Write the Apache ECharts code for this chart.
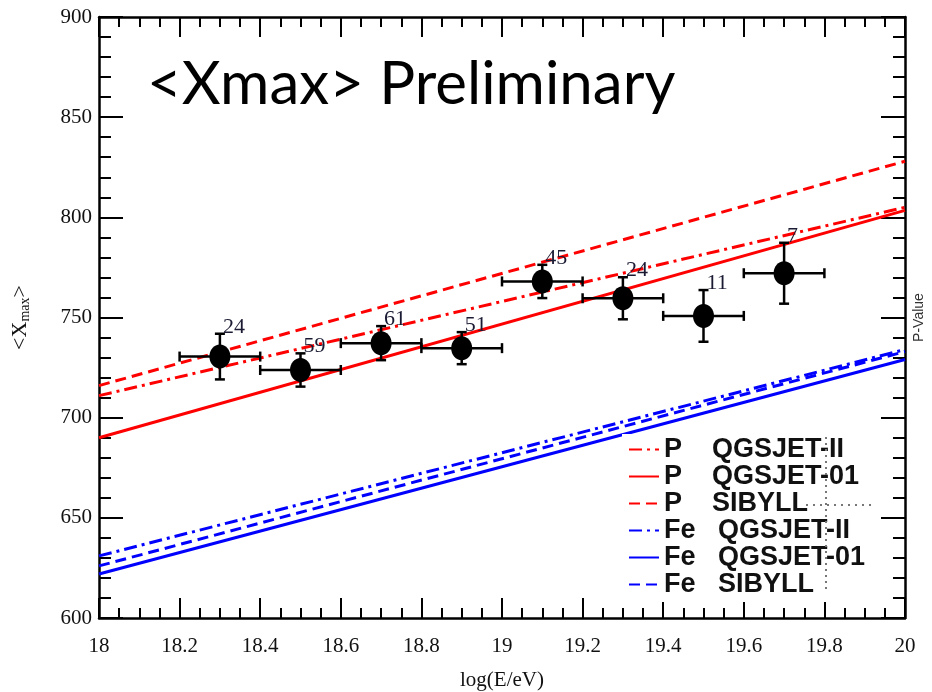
<!DOCTYPE html>
<html>
<head>
<meta charset="utf-8">
<script src="https://cdn.jsdelivr.net/npm/echarts@6/dist/echarts.min.js"></script>
<style>
  html, body { margin: 0; padding: 0; background: #fff; overflow: hidden; }
  #chart { width: 932px; height: 692px; }
</style>
</head>
<body>
<div id="chart"></div>
<script>
// ---- data ----
const energies      = [18.3, 18.5, 18.7, 18.9, 19.1, 19.3, 19.5, 19.7];
const binHalfWidth  = [0.1, 0.1, 0.1, 0.1, 0.1, 0.1, 0.1, 0.1];
const xmaxMean      = [730.5, 723.8, 737.2, 734.7, 768.0, 759.6, 750.8, 772.1];
const xmaxErr       = [11.4, 8.3, 8.5, 8.0, 8.3, 10.5, 12.9, 15.2];
const eventCounts   = [24, 59, 61, 51, 45, 24, 11, 7];

const modelEnergy   = [18, 20];
const pQgsjetII     = [711, 805];
const pQgsjet01     = [690, 803.5];
const pSibyll       = [716, 828];
const feQgsjetII    = [631, 734];
const feQgsjet01    = [622, 729];
const feSibyll      = [626, 733];

const legendNames = ['P    QGSJET-II', 'P    QGSJET-01', 'P    SIBYLL', 'Fe   QGSJET-II', 'Fe   QGSJET-01', 'Fe   SIBYLL'];
const xTickLabels = ['18','18.2','18.4','18.6','18.8','19','19.2','19.4','19.6','19.8','20'];
const yTickLabels = ['600','650','700','750','800','850','900'];

const RED = '#ff0000', BLUE = '#0000ff';
const DASH = [11, 6], DASHDOT = [13, 5, 3, 5];
const SERIF = '"Liberation Serif", "DejaVu Serif", serif';
const SANS = '"Liberation Sans", Arial, sans-serif';

function zip(xs, ys) { return xs.map((x, i) => [x, ys[i]]); }

function modelSeries(name, values, color, dash) {
  return {
    name: name, type: 'line', data: zip(modelEnergy, values),
    symbol: 'none', silent: true, z: 2,
    lineStyle: { color: color, width: 3, type: dash },
    itemStyle: { color: color, opacity: 0 }
  };
}

const pointData = energies.map((e, i) => [e, xmaxMean[i], binHalfWidth[i], xmaxErr[i], eventCounts[i]]);

function xLabel(v) {
  const idx = Math.round((v - 18) / 0.2);
  return xTickLabels[idx] !== undefined ? xTickLabels[idx] : '';
}
function yLabel(v) {
  const idx = Math.round((v - 600) / 50);
  return yTickLabels[idx] !== undefined ? yTickLabels[idx] : '';
}

const axisLineStyle = { color: '#000', width: 2.5 };

const chart = echarts.init(document.getElementById('chart'), null, { renderer: 'canvas' });
chart.setOption({
  backgroundColor: '#fff',
  animation: false,
  title: {
    text: '<Xmax> Preliminary',
    left: 142, top: 50,
    textStyle: { fontFamily: 'Lato, "Open Sans", sans-serif', fontSize: 60, fontWeight: 'normal', color: '#000' }
  },
  grid: { left: 99, right: 27, top: 17, bottom: 74, containLabel: false, outerBoundsMode: 'none' },
  xAxis: [{
    type: 'value', min: 18, max: 20, interval: 0.2, position: 'bottom',
    axisLine: { show: true, lineStyle: axisLineStyle },
    axisTick: { show: true, inside: true, length: 20, lineStyle: { color: '#000', width: 2 } },
    minorTick: { show: true, splitNumber: 4, length: 10, lineStyle: { color: '#000', width: 2 } },
    splitLine: { show: false },
    axisLabel: { formatter: xLabel, fontFamily: SERIF, fontSize: 21, color: '#111', margin: 18 },
    name: 'log(E/eV)', nameLocation: 'middle', nameGap: 52,
    nameTextStyle: { fontFamily: SERIF, fontSize: 21, color: '#111' }
  }, {
    type: 'value', min: 18, max: 20, interval: 0.2, position: 'top',
    axisLine: { show: true, lineStyle: axisLineStyle },
    axisTick: { show: true, inside: true, length: 20, lineStyle: { color: '#000', width: 2 } },
    minorTick: { show: true, splitNumber: 4, length: 10, lineStyle: { color: '#000', width: 2 } },
    splitLine: { show: false },
    axisLabel: { show: false }
  }],
  yAxis: [{
    type: 'value', min: 600, max: 900, interval: 50, position: 'left',
    axisLine: { show: true, lineStyle: axisLineStyle },
    axisTick: { show: true, inside: true, length: 24, lineStyle: { color: '#000', width: 2 } },
    minorTick: { show: true, splitNumber: 5, length: 12, lineStyle: { color: '#000', width: 2 } },
    splitLine: { show: false },
    axisLabel: { formatter: yLabel, fontFamily: SERIF, fontSize: 21, color: '#111', margin: 7 },
    name: '<X{sub|max}>', nameLocation: 'middle', nameGap: 67, nameRotate: 90,
    nameTextStyle: {
      fontFamily: SERIF, fontSize: 22, color: '#111',
      rich: { sub: { fontFamily: SERIF, fontSize: 14, color: '#111', padding: [10, 0, 0, 0] } }
    }
  }, {
    type: 'value', min: 600, max: 900, interval: 50, position: 'right',
    axisLine: { show: true, lineStyle: axisLineStyle },
    axisTick: { show: true, inside: true, length: 24, lineStyle: { color: '#000', width: 2 } },
    minorTick: { show: true, splitNumber: 5, length: 12, lineStyle: { color: '#000', width: 2 } },
    splitLine: { show: false },
    axisLabel: { show: false },
    name: 'P-Value', nameLocation: 'middle', nameGap: 7, nameRotate: 90,
    nameTextStyle: { fontFamily: SANS, fontSize: 14, color: '#333' }
  }],
  legend: {
    orient: 'vertical', left: 622, top: 434,
    padding: [2, 10, 4, 6], itemGap: 0,
    itemWidth: 30, itemHeight: 14,
    backgroundColor: '#fff',
    itemStyle: { opacity: 0 },
    textStyle: { fontFamily: SANS, fontWeight: 'bold', fontSize: 27, lineHeight: 26, color: '#111' },
    data: legendNames,
    selectedMode: false,
    z: 5
  },
  graphic: [
    { type: 'line', z: 100, shape: { x1: 826, y1: 437, x2: 826, y2: 592 },
      style: { stroke: '#777', lineWidth: 2, lineDash: [2, 4] } },
    { type: 'line', z: 100, shape: { x1: 806, y1: 505, x2: 872, y2: 505 },
      style: { stroke: '#777', lineWidth: 2, lineDash: [2, 5] } }
  ],
  series: [
    modelSeries(legendNames[0], pQgsjetII, RED, DASHDOT),
    modelSeries(legendNames[1], pQgsjet01, RED, 'solid'),
    modelSeries(legendNames[2], pSibyll, RED, DASH),
    modelSeries(legendNames[3], feQgsjetII, BLUE, DASHDOT),
    modelSeries(legendNames[4], feQgsjet01, BLUE, 'solid'),
    modelSeries(legendNames[5], feSibyll, BLUE, DASH),
    {
      name: 'data', type: 'custom', z: 10, silent: true,
      data: pointData,
      renderItem: function (params, api) {
        const x = api.value(0), y = api.value(1), ex = api.value(2), ey = api.value(3), n = api.value(4);
        const c = api.coord([x, y]);
        const l = api.coord([x - ex, y]);
        const r = api.coord([x + ex, y]);
        const t = api.coord([x, y + ey]);
        const b = api.coord([x, y - ey]);
        const st = { stroke: '#000', lineWidth: 2.5 };
        const cap = 5;
        return {
          type: 'group',
          children: [
            { type: 'line', shape: { x1: l[0], y1: l[1], x2: r[0], y2: r[1] }, style: st },
            { type: 'line', shape: { x1: l[0], y1: l[1] - cap, x2: l[0], y2: l[1] + cap }, style: st },
            { type: 'line', shape: { x1: r[0], y1: r[1] - cap, x2: r[0], y2: r[1] + cap }, style: st },
            { type: 'line', shape: { x1: t[0], y1: t[1], x2: b[0], y2: b[1] }, style: st },
            { type: 'line', shape: { x1: t[0] - cap, y1: t[1], x2: t[0] + cap, y2: t[1] }, style: st },
            { type: 'line', shape: { x1: b[0] - cap, y1: b[1], x2: b[0] + cap, y2: b[1] }, style: st },
            { type: 'ellipse', shape: { cx: c[0], cy: c[1], rx: 10.5, ry: 12 }, style: { fill: '#000' } },
            { type: 'text', style: {
                text: String(n), x: t[0] + 3, y: t[1] + 4,
                align: 'left', verticalAlign: 'bottom',
                font: '22px ' + SERIF, fill: '#1a1a33'
            } }
          ]
        };
      }
    }
  ]
});
</script>
</body>
</html>
